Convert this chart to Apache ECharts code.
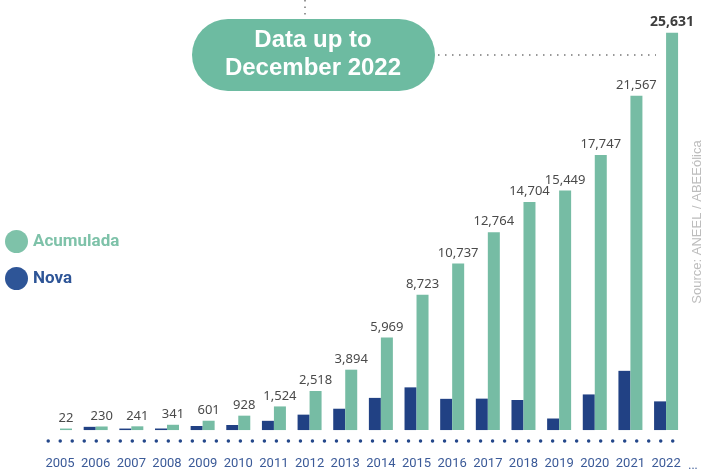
<!DOCTYPE html>
<html lang="en">
<head>
    <meta charset="UTF-8">
    <title>Wind capacity</title>
    <script src="https://cdn.jsdelivr.net/npm/echarts@6/dist/echarts.min.js"></script>
</head>
<body style="margin:0;">
    <div id="main" style="width:705px;height:470px;"></div>
</body>
<script type="text/javascript">
    // data
    var years = ['2005', '2006', '2007', '2008', '2009', '2010', '2011', '2012', '2013',
        '2014', '2015', '2016', '2017', '2018', '2019', '2020', '2021', '2022'];
    var acumulada = [22, 230, 241, 341, 601, 928, 1524, 2518, 3894, 5969, 8723,
        10737, 12764, 14704, 15449, 17747, 21567, 25631];
    var nova = ['-', 208, 11, 100, 260, 327, 596, 994, 1376, 2075, 2754,
        2014, 2027, 1940, 745, 2298, 3820, 1850];

    var green = '#76bca4';
    var blue = '#214184';

    var myChart = echarts.init(document.getElementById('main'));

    // last value label is bold
    var accData = acumulada.map(function (v, i) {
        if (i === acumulada.length - 1) {
            return { value: v, label: { fontWeight: 'bold', fontSize: 14, color: '#3d3d3d' } };
        }
        return v;
    });

    var yMax = 26000;

    var option = {
        animation: false,
        // bottom of grid is the dotted axis, bars start a bit above it (at 0)
        grid: { left: 42.2, right: 21.1, top: 27, bottom: 27 },
        legend: {
            orient: 'vertical',
            left: 5,
            top: 230,
            padding: 0,
            itemWidth: 23,
            itemHeight: 23,
            itemGap: 14,
            icon: 'circle',
            textStyle: { fontFamily: 'Roboto', fontWeight: 'bold', fontSize: 17 },
            data: [
                { name: 'Acumulada', itemStyle: { color: '#7ec2a9' }, textStyle: { color: '#7ec2a9' } },
                { name: 'Nova', itemStyle: { color: '#2e5597' }, textStyle: { color: '#2e5597' } }
            ]
        },
        xAxis: {
            type: 'category',
            data: years,
            axisTick: { show: false },
            axisLine: {
                onZero: false,
                lineStyle: { color: '#24478a', width: 3.5, type: [0.01, 12], dashOffset: 6, cap: 'round' }
            },
            axisLabel: { interval: 0, color: '#3b5a98', fontSize: 13, fontFamily: 'Roboto', margin: 16 }
        },
        yAxis: {
            type: 'value',
            show: false,
            min: -Math.round(yMax * 11 / 405),
            max: yMax,
            splitLine: { show: false }
        },
        series: [
            {
                name: 'Nova',
                type: 'bar',
                barWidth: 12,
                barGap: '0%',
                barMinHeight: 1.5,
                itemStyle: { color: blue },
                data: nova
            },
            {
                name: 'Acumulada',
                type: 'bar',
                barWidth: 12,
                barMinHeight: 1.5,
                itemStyle: { color: green },
                label: {
                    show: true,
                    position: 'top',
                    distance: 4,
                    color: '#4a4a4a',
                    fontSize: 13,
                    fontFamily: 'Noto Sans',
                    formatter: function (p) { return p.value.toLocaleString('en-US'); }
                },
                data: accData
            }
        ],
        graphic: [
            // dotted guide lines around the callout
            { type: 'line', shape: { x1: 305, y1: 0, x2: 305, y2: 17 },
              style: { stroke: '#777', lineWidth: 1.5, lineDash: [1.5, 5] } },
            { type: 'line', shape: { x1: 438, y1: 55, x2: 656, y2: 55 },
              style: { stroke: '#777', lineWidth: 1.5, lineDash: [1.5, 5.5] } },
            { type: 'rect', shape: { x: 192, y: 19, width: 243, height: 72, r: 36 },
              style: { fill: '#6dbba1' } },
            { type: 'text', x: 313, y: 54,
              style: { text: 'Data up to\nDecember 2022', fill: '#fff', font: 'bold 24px "Liberation Sans"',
                       align: 'center', verticalAlign: 'middle', lineHeight: 28 } },
            // source note
            { type: 'text', x: 697, y: 222, rotation: Math.PI / 2,
              style: { text: 'Source: ANEEL / ABEEólica', fill: '#bdbdbd', font: '13px "Liberation Sans"',
                       align: 'center', verticalAlign: 'middle' } },
            { type: 'text', x: 693, y: 466,
              style: { text: '...', fill: '#3b5a98', font: '12px Roboto', align: 'center', verticalAlign: 'middle' } }
        ]
    };

    myChart.setOption(option);
</script>
</html>
